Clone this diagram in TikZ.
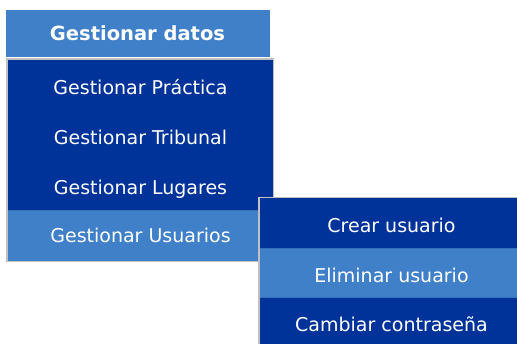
\documentclass[tikz,border=0pt]{standalone}
\usepackage{fontspec}
\setmainfont{DejaVu Sans}
\definecolor{menudark}{HTML}{003399}
\definecolor{menulight}{HTML}{4080C8}
\definecolor{menusep}{HTML}{3670B8}
\definecolor{menubord}{HTML}{C0C0C0}
\begin{document}
\begin{tikzpicture}[x=1pt,y=-1pt,
  item/.style={text=white,font=\fontsize{19}{19}\selectfont,anchor=base,inner sep=0pt},
  head/.style={item,font=\bfseries\fontsize{19.5}{19.5}\selectfont},
  sep/.style={draw=menusep,line width=1pt}]
\useasboundingbox (0,0) rectangle (517,343);
\fill[white] (0,0) rectangle (517,343);
% header
\fill[menulight] (6,10) rectangle (270,57);
\node[head] (hdr) at (137.5,40) {Gestionar datos};
% first submenu
\fill[menubord] (6,58) rectangle (274,262);
\fill[menudark] (7.5,59.5) rectangle (272.5,210);
\fill[menulight] (7.5,210) rectangle (272.5,260.5);
\draw[sep] (7.5,210.5) -- (272.5,210.5);
\node[item] (m1) at (140.5,94.3) {Gestionar Práctica};
\node[item] (m2) at (140.5,144) {Gestionar Tribunal};
\node[item] (m3) at (140.5,194) {Gestionar Lugares};
\node[item] (m4) at (140.5,242) {Gestionar Usuarios};
% second submenu
\fill[menubord] (258,196.5) rectangle (520,346);
\fill[menudark] (260,198) rectangle (520,248);
\fill[menulight] (260,248) rectangle (520,298);
\fill[menudark] (260,298) rectangle (520,346);
\draw[sep] (260,248.5) -- (520,248.5);
\draw[sep] (260,297.5) -- (520,297.5);
\node[item] (s1) at (391.5,232.7) {Crear usuario};
\node[item] (s2) at (391.5,282.7) {Eliminar usuario};
\node[item] (s3) at (391.5,331.7) {Cambiar contraseña};
\end{tikzpicture}
\end{document}
